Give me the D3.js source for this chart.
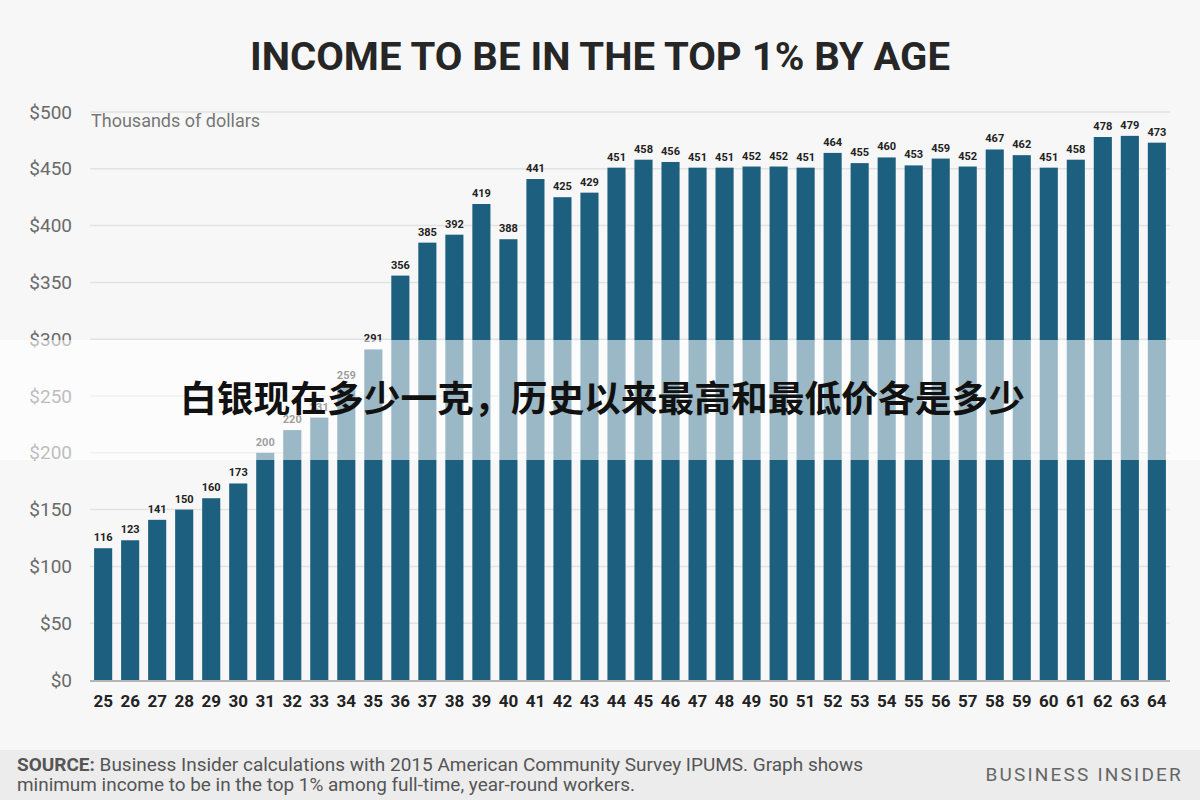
<!DOCTYPE html>
<html><head><meta charset="utf-8">
<script src="https://cdn.jsdelivr.net/npm/d3@7"></script>
<style>
body{margin:0;background:#f7f7f7;}
svg{display:block;}
</style></head>
<body>
<svg id="chart" width="1200" height="800"></svg>
<script>
const ages = [25,26,27,28,29,30,31,32,33,34,35,36,37,38,39,40,41,42,43,44,45,46,47,48,49,50,51,52,53,54,55,56,57,58,59,60,61,62,63,64];
const incomes = [116,123,141,150,160,173,200,220,231,259,291,356,385,392,419,388,441,425,429,451,458,456,451,451,452,452,451,464,455,460,453,459,452,467,462,451,458,478,479,473];
const yTicks = [0,50,100,150,200,250,300,350,400,450,500];
const title = "INCOME TO BE IN THE TOP 1% BY AGE";
const unitLabel = "Thousands of dollars";
const overlayText = "白银现在多少一克，历史以来最高和最低价各是多少";

const svg = d3.select("#chart");
svg.append("rect").attr("width",1200).attr("height",800).attr("fill","#f7f7f7");

const x = d3.scaleBand().domain(ages).range([89.5,1170.5]).paddingInner(0.33).paddingOuter(0.17);
const y = d3.scaleLinear().domain([0,500]).range([680,112]);

// gridlines
svg.append("g").selectAll("line").data(yTicks.filter(d=>d>0)).join("line")
  .attr("x1",90).attr("x2",1170).attr("y1",d=>y(d)).attr("y2",d=>y(d))
  .attr("stroke","#e2e2e2").attr("stroke-width",1.5);

// y axis labels
const yAxis = d3.axisLeft(y).tickValues(yTicks).tickFormat(d=>"$"+d).tickSize(0).tickPadding(0);
const yg = svg.append("g").attr("transform","translate(72,0)").call(yAxis);
yg.select(".domain").remove();
yg.selectAll("text").attr("font-family","Roboto, sans-serif").attr("font-size",19).attr("fill","#6a6a6a");

svg.append("text").attr("x",91).attr("y",127).text(unitLabel)
  .attr("font-family","Roboto, sans-serif").attr("font-size",18).attr("fill","#777");

// bars
svg.append("g").selectAll("rect").data(ages).join("rect")
  .attr("x",d=>x(d)).attr("width",x.bandwidth())
  .attr("y",(d,i)=>y(incomes[i])).attr("height",(d,i)=>y(0)-y(incomes[i]))
  .attr("fill","#1d5f7f");

// value labels
svg.append("g").selectAll("text").data(ages).join("text")
  .attr("x",d=>x(d)+x.bandwidth()/2).attr("y",(d,i)=>y(incomes[i])-7)
  .attr("text-anchor","middle").text((d,i)=>incomes[i])
  .attr("font-family","Roboto, sans-serif").attr("font-weight","bold").attr("font-size",11).attr("fill","#222");

// baseline
svg.append("line").attr("x1",90).attr("x2",1170).attr("y1",y(0)+1).attr("y2",y(0)+1)
  .attr("stroke","#b5b5b5").attr("stroke-width",2);

// x axis
const xAxis = d3.axisBottom(x).tickSize(0).tickPadding(0);
const xg = svg.append("g").attr("transform","translate(0,695)").call(xAxis);
xg.select(".domain").remove();
xg.selectAll("text").attr("font-family","Roboto, sans-serif").attr("font-weight","bold").attr("font-size",17).attr("fill","#222");

// title
svg.append("text").attr("x",600).attr("y",70).attr("text-anchor","middle").text(title)
  .attr("font-family","Roboto, sans-serif").attr("font-weight","bold").attr("font-size",38).attr("fill","#262626")
  .attr("textLength",700).attr("lengthAdjust","spacingAndGlyphs");

// footer
svg.append("rect").attr("x",0).attr("y",750).attr("width",1200).attr("height",50).attr("fill","#ececec");
const f1 = svg.append("text").attr("x",17).attr("y",771)
  .attr("font-family","Roboto, sans-serif").attr("font-size",18).attr("fill","#555")
  .attr("textLength",846).attr("lengthAdjust","spacingAndGlyphs");
f1.append("tspan").attr("font-weight","bold").text("SOURCE:");
f1.append("tspan").text(" Business Insider calculations with 2015 American Community Survey IPUMS. Graph shows");
svg.append("text").attr("x",17).attr("y",791)
  .attr("font-family","Roboto, sans-serif").attr("font-size",18).attr("fill","#555")
  .attr("textLength",618).attr("lengthAdjust","spacingAndGlyphs")
  .text("minimum income to be in the top 1% among full-time, year-round workers.");
svg.append("text").attr("x",1183).attr("y",781).attr("text-anchor","end").text("BUSINESS INSIDER")
  .attr("font-family","Roboto, sans-serif").attr("font-size",19).attr("fill","#666").attr("letter-spacing",2.2);

// overlay band
svg.append("rect").attr("x",0).attr("y",340).attr("width",1200).attr("height",120).attr("fill","#ffffff").attr("opacity",0.56);
svg.append("text").attr("x",180).attr("y",412).text(overlayText)
  .attr("font-family","'Noto Sans CJK SC', sans-serif").attr("font-weight","bold").attr("font-size",36).attr("fill","#111")
  .attr("textLength",845).attr("lengthAdjust","spacingAndGlyphs");
</script>
</body></html>
